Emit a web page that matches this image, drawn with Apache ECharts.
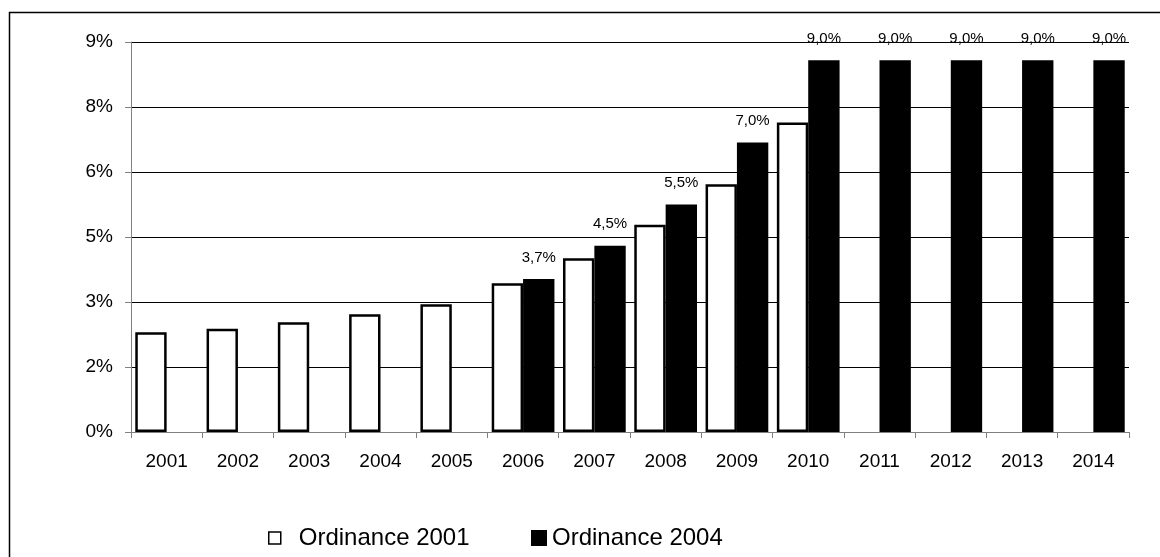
<!DOCTYPE html>
<html>
<head>
<meta charset="utf-8">
<script src="https://cdn.jsdelivr.net/npm/echarts@6/dist/echarts.min.js"></script>
<style>
html, body { margin: 0; padding: 0; background: #fff; }
#chart { width: 1160px; height: 557px; }
</style>
</head>
<body>
<div id="chart"></div>
<script>
// values (axis units, %)
var years = ['2001', '2002', '2003', '2004', '2005', '2006', '2007', '2008', '2009', '2010', '2011', '2012', '2013', '2014']
var ord2001 = [2.30, 2.38, 2.53, 2.72, 2.95, 3.43, 4.01, 4.78, 5.72, 7.14, null, null, null, null]
var ord2004 = [null, null, null, null, null, 3.53, 4.30, 5.25, 6.68, 8.58, 8.58, 8.58, 8.58, 8.58]
var ord2004Labels = ['', '', '', '', '', '3,7%', '4,5%', '5,5%', '7,0%', '9,0%', '9,0%', '9,0%', '9,0%', '9,0%']

var font = "'Liberation Sans', Arial, sans-serif"

var chart = echarts.init(document.getElementById('chart'))
chart.setOption({
    animation: false,
    backgroundColor: '#fff',
    textStyle: { fontFamily: font, color: '#000' },
    graphic: [
        {
            // outer frame (only top and left edges are inside the picture)
            type: 'rect',
            shape: { x: 9.5, y: 12.5, width: 1300, height: 700 },
            style: { fill: 'none', stroke: '#000', lineWidth: 1.5 },
            silent: true
        }
    ],
    grid: {
        left: 131,
        right: 31,
        top: 42,
        bottom: 125
    },
    legend: [
        {
            data: ['Ordinance 2001'],
            left: 263,
            top: 521,
            icon: 'rect',
            itemWidth: 12,
            itemHeight: 12,
            itemStyle: { borderWidth: 1.5 },
            textStyle: { fontSize: 24, fontFamily: font, color: '#000', padding: [0, 0, 0, 13] }
        },
        {
            data: ['Ordinance 2004'],
            left: 526,
            top: 521,
            icon: 'rect',
            itemWidth: 16,
            itemHeight: 16,
            textStyle: { fontSize: 24, fontFamily: font, color: '#000' }
        }
    ],
    xAxis: {
        type: 'category',
        data: years,
        axisLine: { lineStyle: { color: '#808080', width: 1 } },
        axisTick: { show: true, length: 6, lineStyle: { color: '#808080' } },
        axisLabel: { fontSize: 19, color: '#000', margin: 20, fontFamily: font }
    },
    yAxis: {
        type: 'value',
        min: 0,
        max: 9,
        interval: 1.5,
        axisLine: { show: true, lineStyle: { color: '#808080', width: 1 } },
        axisTick: { show: true, length: 6, lineStyle: { color: '#808080' } },
        axisLabel: {
            fontSize: 19,
            color: '#000',
            margin: 18,
            fontFamily: font,
            formatter: function (v) { return Math.round(v) + '%' }
        },
        splitLine: { lineStyle: { color: '#000', width: 1 } }
    },
    series: [
        {
            name: 'Ordinance 2001',
            type: 'bar',
            data: ord2001,
            barGap: '0%',
            barCategoryGap: '12%',
            itemStyle: { color: '#fff', borderColor: '#000', borderWidth: 2.5 }
        },
        {
            name: 'Ordinance 2004',
            type: 'bar',
            data: ord2004,
            itemStyle: { color: '#000' },
            label: {
                show: true,
                position: 'top',
                distance: 14,
                fontSize: 15,
                color: '#000',
                fontFamily: font,
                formatter: function (p) { return ord2004Labels[p.dataIndex] }
            }
        }
    ]
})
</script>
</body>
</html>
